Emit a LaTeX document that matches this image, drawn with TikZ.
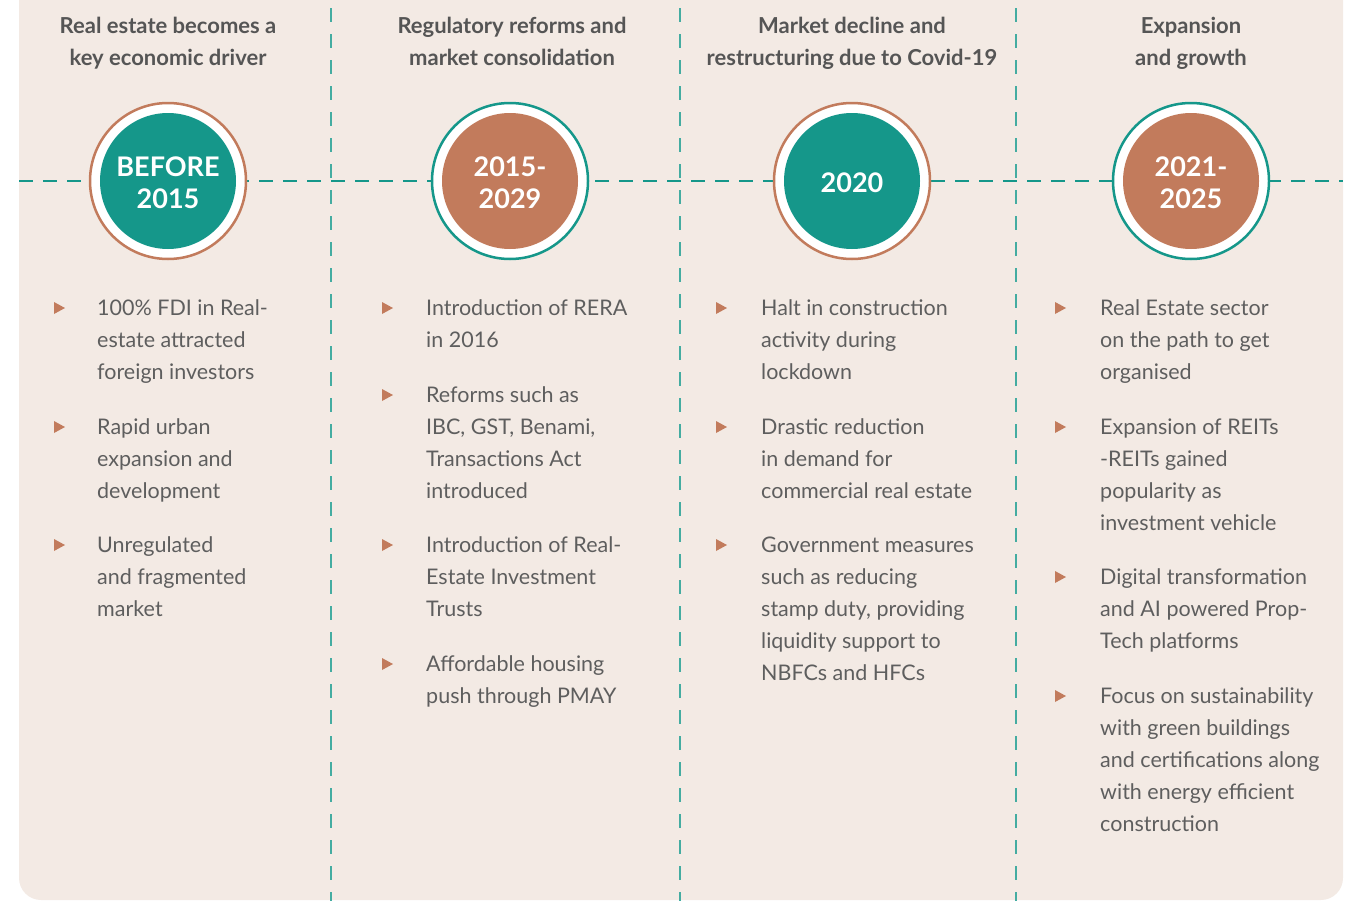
\documentclass[tikz,border=0pt]{standalone}
\usepackage{fontspec}
\setmainfont{Lato}
\usetikzlibrary{positioning}
\definecolor{bg}{HTML}{F3EAE4}
\definecolor{teal}{HTML}{15978A}
\definecolor{terra}{HTML}{C27B5C}
\definecolor{txt}{HTML}{5E5E5E}
\definecolor{head}{HTML}{555555}
\newcommand{\hdtext}[1]{\parbox[t]{340pt}{\centering #1}}
\newcommand{\ittext}[1]{\parbox[t]{300pt}{\raggedright #1}}
\tikzset{
  hd/.style={anchor=base, text=head, font=\bfseries\fontsize{22}{32}\selectfont, inner sep=0pt},
  item/.style={anchor=base west, text=txt, font=\fontsize{21.5}{32}\selectfont, inner sep=0pt},
  yr/.style={align=center, text=white, font=\bfseries\fontsize{27}{32}\selectfont, inner sep=0pt},
  ring/.style={circle, fill=white, draw=#1, line width=2.5pt, minimum size=156pt, inner sep=0pt},
  disk/.style={circle, fill=#1, minimum size=136pt, inner sep=0pt},
  vdash/.style={draw=teal!80, line width=1.6pt, dash pattern=on 14pt off 12pt},
  hdash/.style={draw=teal, line width=2pt, dash pattern=on 14pt off 10pt},
  bul/.style={fill=terra}
}
\newcommand{\bul}[2]{\fill[bul] (#1-5,#2-6) -- (#1+6,#2) -- (#1-5,#2+6) -- cycle;}
\begin{document}
\begin{tikzpicture}[x=1pt,y=-1pt]
\useasboundingbox (0,0) rectangle (1357,900);
\fill[bg, rounded corners=22pt] (19,-40) rectangle (1343,900);
% vertical dashed separators
\coordinate (v1t) at (331,8); \coordinate (v1b) at (331,905);
\coordinate (v2t) at (680,8); \coordinate (v2b) at (680,905);
\coordinate (v3t) at (1016,8); \coordinate (v3b) at (1016,905);
\draw[vdash] (v1t) -- (v1b);
\draw[vdash] (v2t) -- (v2b);
\draw[vdash] (v3t) -- (v3b);
% horizontal timeline
\coordinate (hl) at (19,181); \coordinate (hr) at (1343,181);
\draw[hdash] (hl) -- (hr);
% headings
\node[hd] (h1) at (168,33) {\hdtext{Real estate becomes a\\key economic driver}};
\node[hd] (h2) at (512,33) {\hdtext{Regulatory reforms and\\market consolidation}};
\node[hd] (h3) at (852,33) {\hdtext{Market decline and\\restructuring due to Covid-19}};
\node[hd] (h4) at (1191,33) {\hdtext{Expansion\\and growth}};
% circles
\node[ring=terra] (r1) at (168,181) {};
\node[disk=teal] (d1) at (168,181) {};
\node[yr] (t1) at (168,183) {BEFORE\\2015};
\node[ring=teal] (r2) at (510,181) {};
\node[disk=terra] (d2) at (510,181) {};
\node[yr] (t2) at (510,183) {2015-\\2029};
\node[ring=terra] (r3) at (852,181) {};
\node[disk=teal] (d3) at (852,181) {};
\node[yr] (t3) at (852,183) {2020};
\node[ring=teal] (r4) at (1191,181) {};
\node[disk=terra] (d4) at (1191,181) {};
\node[yr] (t4) at (1191,183) {2021-\\2025};
% column 1
\bul{59}{308}\node[item] (a1) at (97,315) {\ittext{100\% FDI in Real-\\estate attracted\\foreign investors}};
\bul{59}{427}\node[item] (a2) at (97,434) {\ittext{Rapid urban\\expansion and\\development}};
\bul{59}{545}\node[item] (a3) at (97,552) {\ittext{Unregulated\\and fragmented\\market}};
% column 2
\bul{387}{308}\node[item] (b1) at (426,315) {\ittext{Introduction of RERA\\in 2016}};
\bul{387}{395}\node[item] (b2) at (426,402) {\ittext{Reforms such as\\IBC, GST, Benami,\\Transactions Act\\introduced}};
\bul{387}{545}\node[item] (b3) at (426,552) {\ittext{Introduction of Real-\\Estate Investment\\Trusts}};
\bul{387}{664}\node[item] (b4) at (426,671) {\ittext{Affordable housing\\push through PMAY}};
% column 3
\bul{721}{308}\node[item] (c1) at (761,315) {\ittext{Halt in construction\\activity during\\lockdown}};
\bul{721}{427}\node[item] (c2) at (761,434) {\ittext{Drastic reduction\\in demand for\\commercial real estate}};
\bul{721}{545}\node[item] (c3) at (761,552) {\ittext{Government measures\\such as reducing\\stamp duty, providing\\liquidity support to\\NBFCs and HFCs}};
% column 4
\bul{1060}{308}\node[item] (e1) at (1100,315) {\ittext{Real Estate sector\\on the path to get\\organised}};
\bul{1060}{427}\node[item] (e2) at (1100,434) {\ittext{Expansion of REITs\\-REITs gained\\popularity as\\investment vehicle}};
\bul{1060}{577}\node[item] (e3) at (1100,584) {\ittext{Digital transformation\\and AI powered Prop-\\Tech platforms}};
\bul{1060}{696}\node[item] (e4) at (1100,703) {\ittext{Focus on sustainability\\with green buildings\\and certifications along\\with energy efficient\\construction}};
\end{tikzpicture}
\end{document}
